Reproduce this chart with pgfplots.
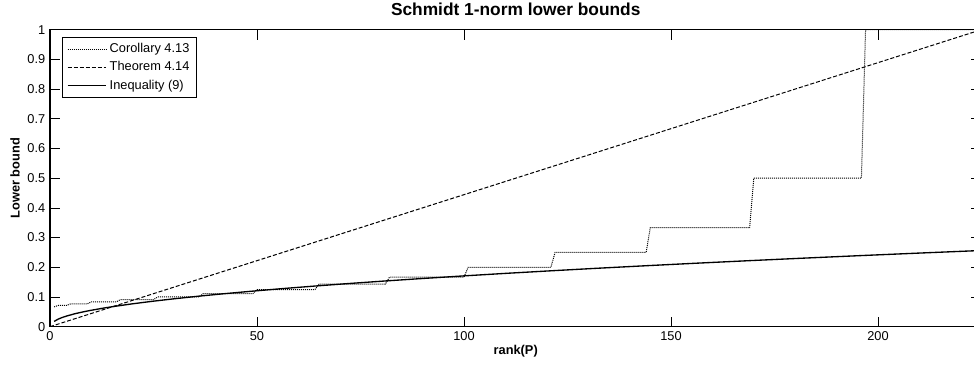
\documentclass[border=0pt]{standalone}
\usepackage{fontspec}
\setmainfont{Liberation Sans}
\usepackage{pgfplots}
\pgfplotsset{compat=1.18}
\begin{document}
\begin{tikzpicture}
\begin{axis}[name=ax,
  scale only axis, width=698.6pt, height=222.75pt,
  xmin=0, xmax=225, ymin=0, ymax=1,
  xtick={0,50,100,150,200},
  ytick={0,0.1,0.2,0.3,0.4,0.5,0.6,0.7,0.8,0.9,1},
  tick align=inside, major tick length=7.5pt,
  axis line style={line width=0.8pt},
  every tick/.style={line width=0.5pt, black},
  tick label style={font=\fontsize{9.6}{11}\selectfont},
  /pgf/number format/assume math mode=true,
  yticklabel style={/pgf/number format/fixed},
  every axis title shift=0pt,
  title={Schmidt 1-norm lower bounds},
  title style={font=\fontsize{13}{15}\selectfont\bfseries, at={(axis description cs:0.5,1.0697)}, anchor=center, yshift=0pt},
  xlabel={rank(P)},
  xlabel style={font=\fontsize{9.6}{11}\selectfont\bfseries, at={(axis description cs:0.5,-0.0842)}, anchor=center},
  ylabel={Lower bound},
  ylabel style={font=\fontsize{9.6}{11}\selectfont\bfseries, at={(axis description cs:-0.0376,0.5)}, anchor=center},
  legend style={at={(axis description cs:0.0129,0.975)}, anchor=north west, draw=black, line width=0.6pt,
    font=\fontsize{9.6}{11}\selectfont, row sep=1.2pt, inner xsep=3.5pt, inner ysep=2.5pt},
  legend cell align=left,
  legend image code/.code={\draw[#1] (0pt,0pt) -- (29pt,0pt);},
]
\addplot[black, line width=0.75pt, dash pattern=on 0.75pt off 0.75pt] coordinates {
 (1,0.0667)(2,0.0714)(4,0.0714)(5,0.0769)(9,0.0769)(10,0.0833)(16,0.0833)(17,0.0909)(25,0.0909)
 (26,0.1)(36,0.1)(37,0.1111)(49,0.1111)(50,0.125)(64,0.125)(65,0.1429)(81,0.1429)(82,0.1667)
 (100,0.1667)(101,0.2)(121,0.2)(122,0.25)(144,0.25)(145,0.3333)(169,0.3333)(170,0.5)(196,0.5)
 (197,1)(225,1)};
\addlegendentry{Corollary 4.13}
\addplot[black, line width=0.75pt, dash pattern=on 3pt off 1.5pt] coordinates {(0,0)(225,1)};
\addlegendentry{Theorem 4.14}
\addplot[black, line width=1pt] coordinates {
 (1,0.0178)(2,0.0255)(3,0.0312)(4,0.0358)(6,0.0435)(8,0.0498)(10,0.0553)(13,0.0627)(16,0.0692)
 (20,0.0771)(25,0.0859)(30,0.0939)(36,0.1028)(42,0.1109)(49,0.1197)(56,0.1280)(64,0.1368)
 (72,0.1451)(81,0.1539)(90,0.1622)(100,0.1710)(110,0.1794)(121,0.1881)(132,0.1965)(144,0.2052)
 (156,0.2136)(169,0.2223)(182,0.2307)(196,0.2394)(210,0.2478)(225,0.2565)};
\addlegendentry{Inequality (9)}
\end{axis}
\pgfresetboundingbox
\path[use as bounding box] ([shift={(-37.5pt,-28pt)}]ax.south west) rectangle ([shift={(693pt,245pt)}]ax.south west);
\end{tikzpicture}
\end{document}
